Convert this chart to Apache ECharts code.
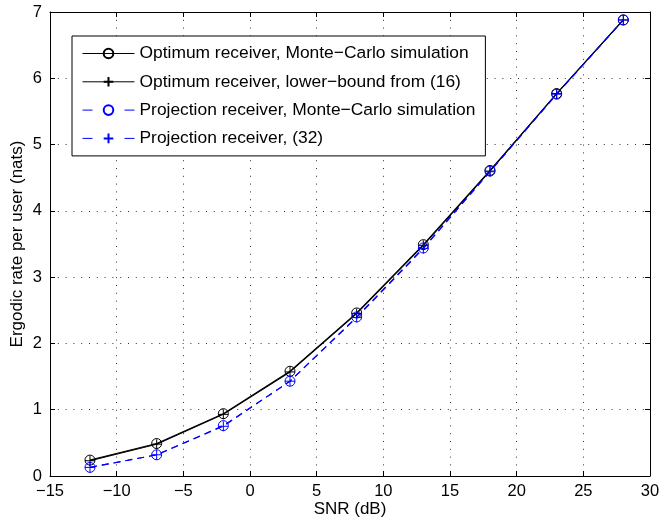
<!DOCTYPE html>
<html><head><meta charset="utf-8">
<script src="https://cdn.jsdelivr.net/npm/echarts@6/dist/echarts.min.js"></script>
<style>html,body{margin:0;padding:0;background:#fff}#c{width:659px;height:523px}</style>
</head><body><div id="c"></div>
<script>
const snr = [-12, -7, -2, 3, 8, 13, 18, 23, 28];
const optMC = [0.24, 0.49, 0.94, 1.58, 2.46, 3.49, 4.61, 5.77, 6.88];
const optLB = [0.23, 0.48, 0.93, 1.57, 2.45, 3.48, 4.60, 5.77, 6.88];
const projMC = [0.13, 0.32, 0.76, 1.43, 2.40, 3.44, 4.60, 5.76, 6.88];
const projEq = [0.13, 0.32, 0.75, 1.43, 2.39, 3.43, 4.59, 5.76, 6.88];
const seriesNames = [
  'Optimum receiver, Monte\u2212Carlo simulation',
  'Optimum receiver, lower\u2212bound from (16)',
  'Projection receiver, Monte\u2212Carlo simulation',
  'Projection receiver, (32)'
];
const xName = 'SNR (dB)';
const yName = 'Ergodic rate per user (nats)';

const FONT = '"Liberation Sans", Arial, Helvetica, sans-serif';
const PLUS = 'path://M10,0L10,20M0,10L20,10';
const pair = ys => snr.map((x, i) => [x, ys[i]]);
const minus = v => String(v).replace('-', '\u2212');

const chart = echarts.init(document.getElementById('c'), null, {renderer: 'canvas'});
const tickCommon = {inside: true, length: 5, lineStyle: {color: '#000', width: 1}};
const dotted = {show: true, lineStyle: {color: '#000', width: 1, type: [1, 6.8], opacity: 0.8}};

function mk(name, ys, color, dashed, symbol) {
  return {
    name, type: 'line', data: pair(ys), xAxisIndex: 0, yAxisIndex: 0,
    symbol: symbol === 'plus' ? PLUS : 'circle',
    symbolSize: 10,
    showAllSymbol: true,
    animation: false,
    lineStyle: {color, width: 1.1, type: dashed ? [7, 5] : 'solid'},
    itemStyle: {color: 'rgba(0,0,0,0)', borderColor: color, borderWidth: 1},
    emphasis: {disabled: true}
  };
}
const legendDash = {type: [10, 32], width: 1};
const legendSolid = {type: 'solid', width: 1};

chart.setOption({
  animation: false,
  backgroundColor: '#fff',
  textStyle: {fontFamily: FONT},
  grid: {left: 50, right: 9, top: 12, bottom: 47, containLabel: false, outerBoundsMode: 'none'},
  legend: {
    orient: 'vertical', left: 72, top: 36,
    padding: [9, 10, 9, 10], itemGap: 11.3, itemWidth: 52, itemHeight: 12,
    borderColor: '#000', borderWidth: 1, backgroundColor: '#fff',
    textStyle: {fontFamily: FONT, fontSize: 17.4, color: '#000'},
    lineStyle: {width: 1},
    data: [
      {name: seriesNames[0], lineStyle: legendSolid},
      {name: seriesNames[1], lineStyle: legendSolid},
      {name: seriesNames[2], lineStyle: legendDash},
      {name: seriesNames[3], lineStyle: legendDash}
    ],
    selectedMode: false
  },
  xAxis: [{
    type: 'value', min: -15, max: 30, interval: 5,
    name: xName, nameLocation: 'middle', nameGap: 25, nameMoveOverlap: false,
    nameTextStyle: {fontFamily: FONT, fontSize: 17, color: '#000'},
    axisLine: {show: true, onZero: false, lineStyle: {color: '#000', width: 1}},
    axisTick: tickCommon,
    axisLabel: {fontFamily: FONT, fontSize: 16.5, color: '#000', margin: 7, formatter: minus},
    splitLine: dotted
  }, {
    type: 'value', min: -15, max: 30, interval: 5, position: 'top',
    axisLine: {show: true, onZero: false, lineStyle: {color: '#000', width: 1}},
    axisTick: tickCommon, axisLabel: {show: false}, splitLine: {show: false}
  }],
  yAxis: [{
    type: 'value', min: 0, max: 7, interval: 1,
    name: yName, nameLocation: 'middle', nameGap: 24, nameMoveOverlap: false,
    nameTextStyle: {fontFamily: FONT, fontSize: 17, color: '#000'},
    axisLine: {show: true, onZero: false, lineStyle: {color: '#000', width: 1}},
    axisTick: tickCommon,
    axisLabel: {fontFamily: FONT, fontSize: 16.5, color: '#000', margin: 8},
    splitLine: dotted
  }, {
    type: 'value', min: 0, max: 7, interval: 1, position: 'right',
    axisLine: {show: true, onZero: false, lineStyle: {color: '#000', width: 1}},
    axisTick: tickCommon, axisLabel: {show: false}, splitLine: {show: false}
  }],
  series: [
    mk(seriesNames[0], optMC, '#000', false, 'circle'),
    mk(seriesNames[1], optLB, '#000', false, 'plus'),
    mk(seriesNames[2], projMC, '#0000ff', true, 'circle'),
    mk(seriesNames[3], projEq, '#0000ff', true, 'plus')
  ]
});
</script></body></html>
